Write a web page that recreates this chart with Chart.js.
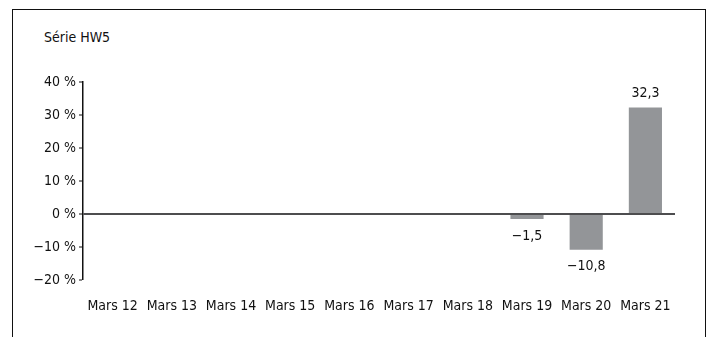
<!DOCTYPE html>
<html>
<head>
<meta charset="utf-8">
<script src="https://cdn.jsdelivr.net/npm/chart.js@4.4.1/dist/chart.umd.min.js"></script>
<style>
  html, body { margin: 0; padding: 0; background: #fff; overflow: hidden; }
  #wrap { position: relative; width: 709px; height: 337px; }
  #frame { position: absolute; left: 12px; top: 9px; width: 692px; height: 340px;
           border-left: 1.5px solid #111; border-top: 1.5px solid #111; border-right: 1.5px solid #111; }
  #title { position: absolute; left: 44px; top: 29px; font-family: 'Liberation Sans Narrow', 'DejaVu Sans Condensed', sans-serif;
           font-size: 14px; color: #111; }
  canvas { position: absolute; left: 0; top: 0; }
</style>
</head>
<body>
<div id="wrap">
  <div id="frame"></div>
  <div id="title">Série HW5</div>
  <canvas id="c" width="709" height="337"></canvas>
</div>
<script>
const categories = ['Mars 12','Mars 13','Mars 14','Mars 15','Mars 16','Mars 17','Mars 18','Mars 19','Mars 20','Mars 21'];
const values = [null, null, null, null, null, null, null, -1.5, -10.8, 32.3];
const yTicks = [-20, -10, 0, 10, 20, 30, 40];

const FONT = "'Liberation Sans Narrow', 'DejaVu Sans Condensed', sans-serif";
const SIZE = 14;
const fmt = v => (v < 0 ? '\u2212' : '') + Math.abs(v).toString().replace('.', ',');

const labelPlugin = {
  id: 'valueLabels',
  afterDatasetsDraw(chart) {
    const ctx = chart.ctx;
    const meta = chart.getDatasetMeta(0);
    ctx.save();
    ctx.font = SIZE + 'px ' + FONT;
    ctx.fillStyle = '#111';
    ctx.textAlign = 'center';
    meta.data.forEach((bar, i) => {
      const v = values[i];
      if (v === null) return;
      if (v >= 0) {
        ctx.textBaseline = 'bottom';
        ctx.fillText(fmt(v), bar.x, bar.y - 7);
      } else {
        ctx.textBaseline = 'top';
        ctx.fillText(fmt(v), bar.x, bar.y + 10);
      }
    });
    ctx.restore();
  }
};

new Chart(document.getElementById('c'), {
  type: 'bar',
  data: {
    labels: categories,
    datasets: [{
      data: values,
      backgroundColor: '#939598',
      borderWidth: 0,
      categoryPercentage: 1,
      barPercentage: 0.56
    }]
  },
  options: {
    responsive: false,
    animation: false,
    events: [],
    layout: { padding: { left: 0, top: 82, right: 34, bottom: 0 } },
    plugins: { legend: { display: false }, tooltip: { enabled: false }, title: { display: false } },
    scales: {
      x: {
        grid: { display: false },
        border: { display: false },
        ticks: { color: '#111', font: { family: FONT, size: SIZE }, padding: 10, maxRotation: 0, autoSkip: false },
        afterFit(s) { s.height = 57; }
      },
      y: {
        min: -20, max: 40,
        afterBuildTicks(s) { s.ticks = yTicks.map(v => ({ value: v })); },
        ticks: {
          color: '#111', font: { family: FONT, size: SIZE }, padding: 3,
          callback: v => fmt(v) + ' %'
        },
        grid: {
          drawOnChartArea: true,
          color: c => (c.tick && c.tick.value === 0) ? '#4d4d4f' : 'rgba(0,0,0,0)',
          lineWidth: c => (c.tick && c.tick.value === 0) ? 2 : 0,
          tickColor: '#111',
          tickWidth: 1,
          tickLength: 4
        },
        border: { display: true, color: '#111', width: 1.5 },
        afterFit(s) { s.width = 83; }
      }
    }
  },
  plugins: [labelPlugin]
});
</script>
</body>
</html>
